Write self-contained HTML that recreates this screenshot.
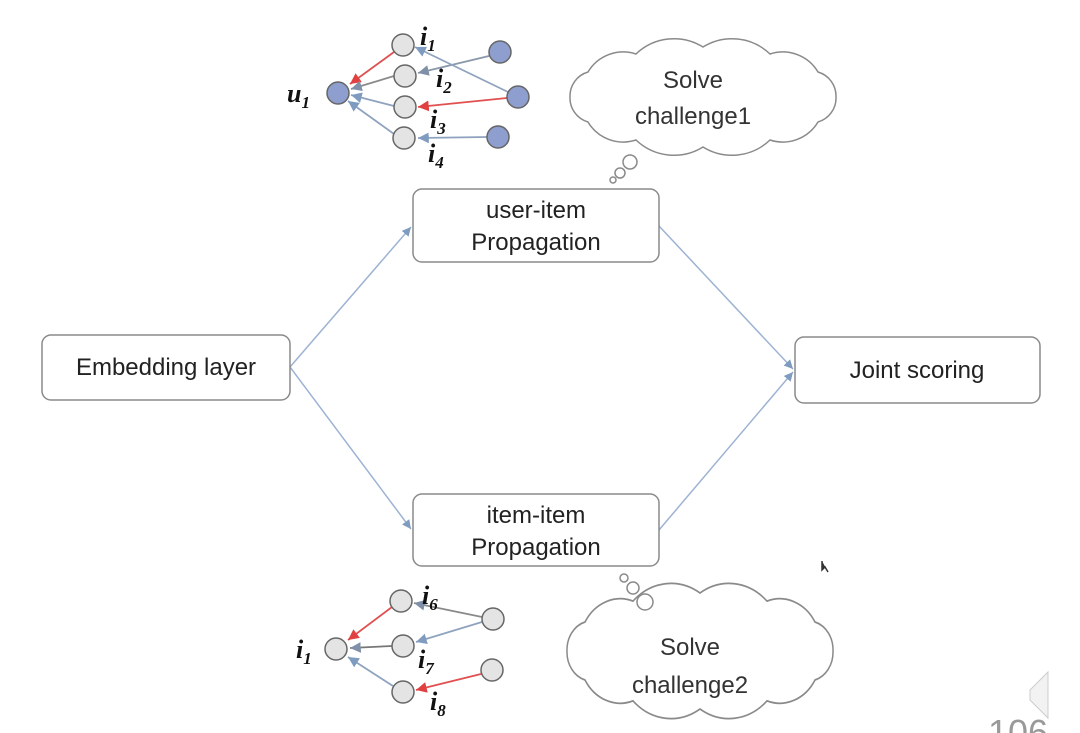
<!DOCTYPE html>
<html><head><meta charset="utf-8"><style>
html,body{margin:0;padding:0;background:#fff;}
body{width:1080px;height:733px;overflow:hidden;position:relative;font-family:"Liberation Sans","DejaVu Sans",sans-serif;}
</style></head><body>
<svg width="1080" height="733" viewBox="0 0 1080 733" xmlns="http://www.w3.org/2000/svg" style="position:absolute;left:0;top:0">
<defs>
<marker id="ab" markerWidth="8" markerHeight="8" refX="6" refY="3" orient="auto"><path d="M0,0 L6,3 L0,6 z" fill="#7f9cc0"/></marker>
<marker id="ar" markerWidth="8" markerHeight="8" refX="6" refY="3" orient="auto"><path d="M0,0 L6,3 L0,6 z" fill="#e04040"/></marker>
<marker id="ag" markerWidth="8" markerHeight="8" refX="6" refY="3" orient="auto"><path d="M0,0 L6,3 L0,6 z" fill="#8090a8"/></marker>
<path id="cloud" d="M133,0 A25,25 0 0 1 115,25 A41,41 0 0 1 67,43 A55,55 0 0 1 0,50 A55,55 0 0 1 -67,43 A41,41 0 0 1 -115,25 A25,25 0 0 1 -133,0 A25,25 0 0 1 -115,-25 A41,41 0 0 1 -67,-43 A55,55 0 0 1 0,-50 A55,55 0 0 1 67,-43 A41,41 0 0 1 115,-25 A25,25 0 0 1 133,0 Z" fill="#fff" stroke="#8a8a8a" stroke-width="1.5"/>
</defs>
<g stroke="#9db3d3" stroke-width="1.5" fill="none">
<line x1="290" y1="367" x2="411" y2="227" marker-end="url(#ab)"/>
<line x1="290" y1="367" x2="411" y2="529" marker-end="url(#ab)"/>
<line x1="659" y1="226" x2="793" y2="369" marker-end="url(#ab)"/>
<line x1="659" y1="530" x2="793" y2="372" marker-end="url(#ab)"/>
</g>
<g fill="#fff" stroke="#8a8a8a" stroke-width="1.5">
<rect x="413" y="189" width="246" height="73" rx="9"/>
<rect x="413" y="494" width="246" height="72" rx="9"/>
<rect x="42" y="335" width="248" height="65" rx="9"/>
<rect x="795" y="337" width="245" height="66" rx="9"/>
</g>
<g font-size="24" fill="#222" text-anchor="middle">
<text x="536" y="218">user-item</text>
<text x="536" y="250">Propagation</text>
<text x="536" y="523">item-item</text>
<text x="536" y="555">Propagation</text>
<text x="166" y="375">Embedding layer</text>
<text x="917" y="378">Joint scoring</text>
</g>
<use href="#cloud" transform="translate(703,97)"/>
<use href="#cloud" transform="translate(700,651) scale(1,1.16)"/>
<g fill="#fff" stroke="#8a8a8a" stroke-width="1.5">
<circle cx="630" cy="162" r="7"/><circle cx="620" cy="173" r="5"/><circle cx="613" cy="180" r="3"/>
<circle cx="645" cy="602" r="8"/><circle cx="633" cy="588" r="6"/><circle cx="624" cy="578" r="4"/>
</g>
<g font-size="24" fill="#333" text-anchor="middle">
<text x="693" y="88">Solve</text>
<text x="693" y="124">challenge1</text>
<text x="690" y="655">Solve</text>
<text x="690" y="693">challenge2</text>
</g>
<g stroke-width="1.8" fill="none">
<line x1="394" y1="52" x2="350" y2="84" stroke="#e05050" marker-end="url(#ar)"/>
<line x1="394" y1="76" x2="351" y2="89" stroke="#8a8a8a" marker-end="url(#ag)"/>
<line x1="394" y1="106" x2="351" y2="95" stroke="#8fa3bf" marker-end="url(#ab)"/>
<line x1="394" y1="134" x2="348" y2="101" stroke="#8fa3bf" marker-end="url(#ab)"/>
<line x1="489" y1="56" x2="418" y2="73" stroke="#8a98aa" marker-end="url(#ag)"/>
<line x1="508" y1="92" x2="415" y2="47" stroke="#8fa3bf" marker-end="url(#ab)"/>
<line x1="507" y1="98" x2="418" y2="107" stroke="#e05050" marker-end="url(#ar)"/>
<line x1="487" y1="137" x2="418" y2="138" stroke="#8fa3bf" marker-end="url(#ab)"/>
</g>
<g stroke="#666" stroke-width="1.5">
<circle cx="338" cy="93" r="11" fill="#8e9fcf"/>
<circle cx="403" cy="45" r="11" fill="#e4e4e4"/>
<circle cx="405" cy="76" r="11" fill="#e4e4e4"/>
<circle cx="405" cy="107" r="11" fill="#e4e4e4"/>
<circle cx="404" cy="138" r="11" fill="#e4e4e4"/>
<circle cx="500" cy="52" r="11" fill="#8e9fcf"/>
<circle cx="518" cy="97" r="11" fill="#8e9fcf"/>
<circle cx="498" cy="137" r="11" fill="#8e9fcf"/>
</g>
<g stroke-width="1.8" fill="none">
<line x1="392" y1="607" x2="348" y2="640" stroke="#e05050" marker-end="url(#ar)"/>
<line x1="392" y1="646" x2="350" y2="648" stroke="#777" marker-end="url(#ag)"/>
<line x1="393" y1="686" x2="348" y2="657" stroke="#8fa3bf" marker-end="url(#ab)"/>
<line x1="482" y1="617" x2="414" y2="603" stroke="#8a8a8a" marker-end="url(#ag)"/>
<line x1="482" y1="622" x2="416" y2="642" stroke="#8fa3bf" marker-end="url(#ab)"/>
<line x1="481" y1="674" x2="416" y2="690" stroke="#e05050" marker-end="url(#ar)"/>
</g>
<g stroke="#666" stroke-width="1.5" fill="#e4e4e4">
<circle cx="336" cy="649" r="11"/>
<circle cx="401" cy="601" r="11"/>
<circle cx="403" cy="646" r="11"/>
<circle cx="403" cy="692" r="11"/>
<circle cx="493" cy="619" r="11"/>
<circle cx="492" cy="670" r="11"/>
</g>
<g font-family="Liberation Serif,serif" font-weight="bold" font-style="italic" fill="#111">
<text x="420" y="45" font-size="26">i<tspan font-size="17" dy="6">1</tspan></text>
<text x="436" y="87" font-size="26">i<tspan font-size="17" dy="6">2</tspan></text>
<text x="430" y="128" font-size="26">i<tspan font-size="17" dy="6">3</tspan></text>
<text x="428" y="162" font-size="26">i<tspan font-size="17" dy="6">4</tspan></text>
<text x="287" y="102" font-size="26">u<tspan font-size="17" dy="6">1</tspan></text>
<text x="422" y="604" font-size="26">i<tspan font-size="17" dy="6">6</tspan></text>
<text x="418" y="668" font-size="26">i<tspan font-size="17" dy="6">7</tspan></text>
<text x="430" y="710" font-size="26">i<tspan font-size="17" dy="6">8</tspan></text>
<text x="296" y="658" font-size="26">i<tspan font-size="17" dy="6">1</tspan></text>
</g>
<path d="M822,561 L822,570 L825,567 L828,572" stroke="#333" stroke-width="1.5" fill="#333"/>
<path d="M1030,690 L1042,678 L1048,672 L1048,718 L1042,712 L1030,700 Z" fill="#f2f2f2" stroke="#ccc"/>
<text x="988" y="745" font-size="36" fill="#999">106</text>
</svg>
</body></html>
